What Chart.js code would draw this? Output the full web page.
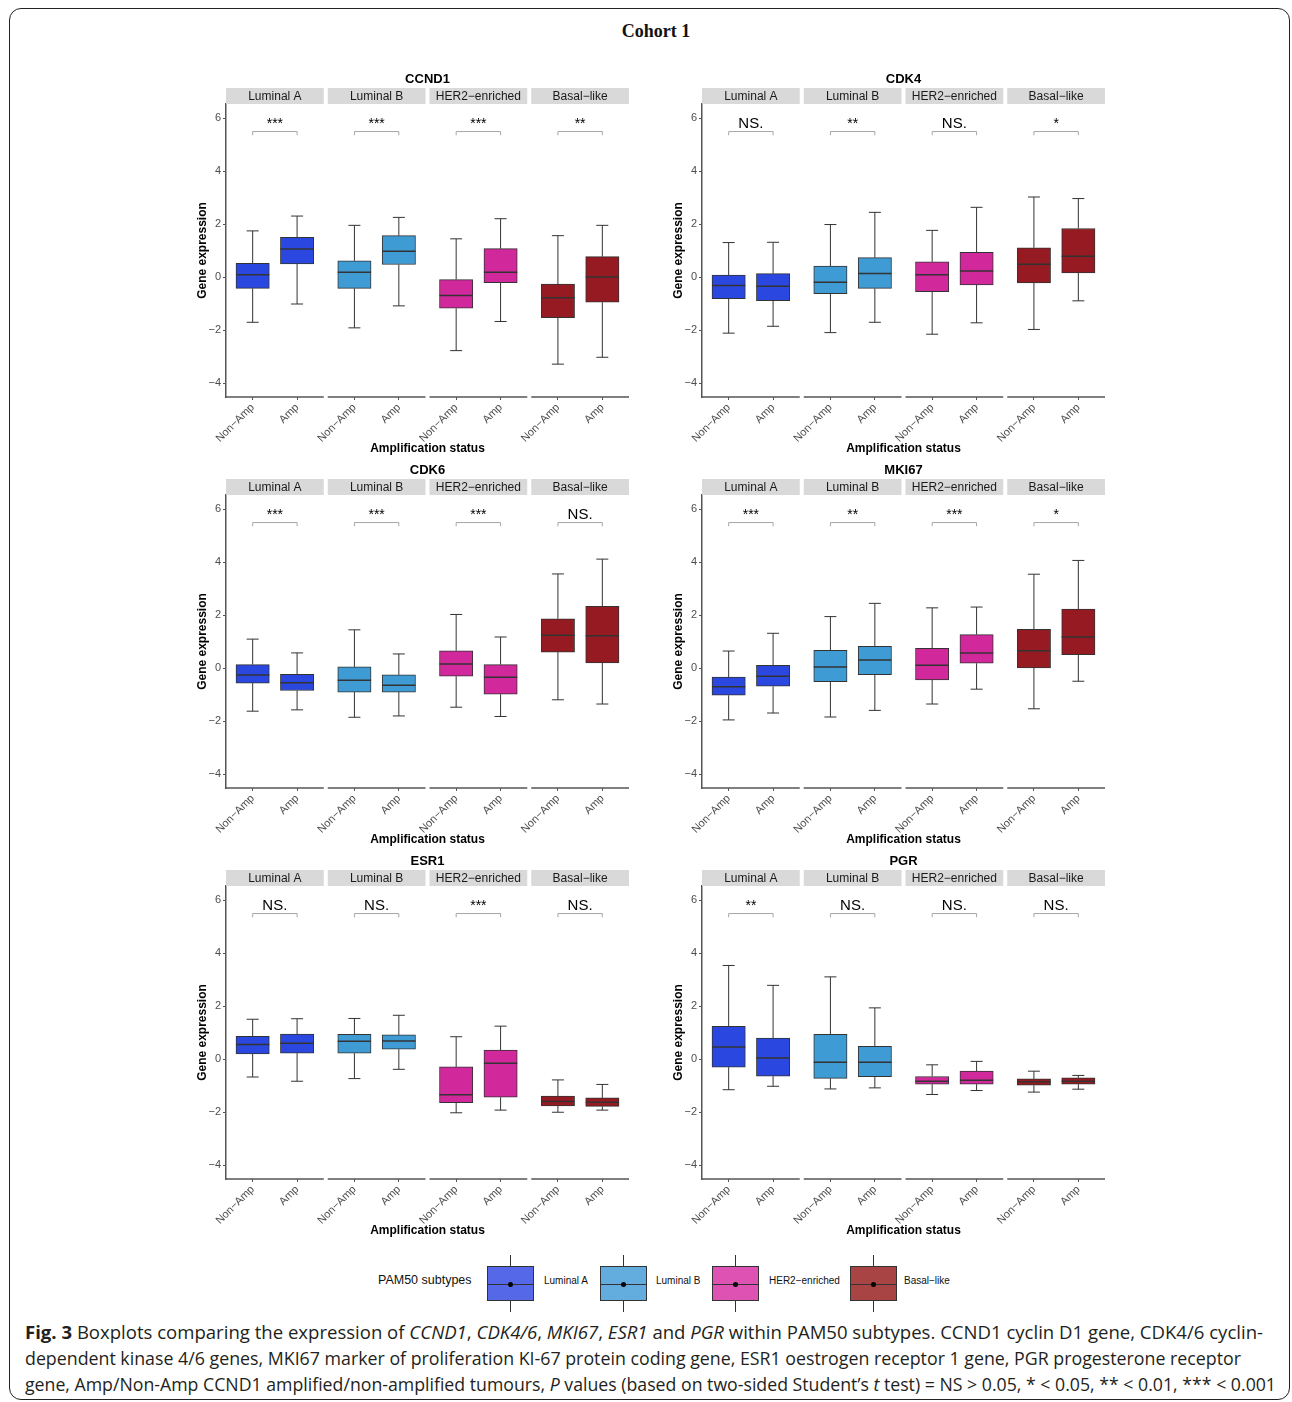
<!DOCTYPE html>
<html>
<head>
<meta charset="utf-8">
<script src="https://cdn.jsdelivr.net/npm/chart.js@4.4.1/dist/chart.umd.min.js"></script>
<style>
  body { margin: 0; width: 1292px; height: 1402px; background: #fff; position: relative; overflow: hidden;
         font-family: "Liberation Sans", Arial, sans-serif; }
  .frame { position: absolute; left: 9px; top: 8px; width: 1279px; height: 1390px;
           border: 1.5px solid #222; border-radius: 12px; }
  .cohort { position: absolute; top: 21px; left: 0; width: 1312px; text-align: center;
            font: bold 18px "Liberation Serif", "DejaVu Serif", serif; color: #111; }
  canvas.panel { position: absolute; }
  .leg-title { position: absolute; left: 378px; top: 1273px; font-size: 12.5px; color: #111; }
  .key { position: absolute; top: 1255px; width: 47px; height: 57px; }
  .key .box { position: absolute; left: 0; top: 11px; width: 45px; height: 33px; border: 1px solid #333; }
  .key .wh { position: absolute; left: 23px; width: 1px; background: #333; }
  .key .med { position: absolute; left: 0; top: 17px; width: 45px; height: 1px; background: #333; }
  .key .dot { position: absolute; left: 20px; top: 15px; width: 5px; height: 5px; border-radius: 50%; background: #000; }
  .key-label { position: absolute; top: 1275px; font-size: 10px; color: #111; }
  .cap { position: absolute; left: 25px; white-space: nowrap; font-family: "Open Sans", "Noto Sans", sans-serif;
         font-size: 18px; line-height: 22px; color: #231f20; transform-origin: left center; }
</style>
</head>
<body>
<div class="frame"></div>
<div class="cohort">Cohort 1</div>

<script>
// ---- data ----
const genes = ['CCND1', 'CDK4', 'CDK6', 'MKI67', 'ESR1', 'PGR'];
const subtypes = ['Luminal A', 'Luminal B', 'HER2\u2212enriched', 'Basal\u2212like'];
const groups = ['Non\u2212Amp', 'Amp'];
const yTicks = [-4, -2, 0, 2, 4, 6];

// each row: [lower whisker, Q1, median, Q3, upper whisker]
// order: LumA Non-Amp, LumA Amp, LumB Non-Amp, LumB Amp, HER2 Non-Amp, HER2 Amp, Basal Non-Amp, Basal Amp
const ccnd1 = [
  [-1.70, -0.42, 0.09, 0.53, 1.75], [-1.01, 0.50, 1.07, 1.51, 2.31],
  [-1.91, -0.42, 0.19, 0.62, 1.96], [-1.08, 0.48, 0.98, 1.57, 2.26],
  [-2.77, -1.17, -0.69, -0.09, 1.45], [-1.67, -0.20, 0.19, 1.08, 2.21],
  [-3.28, -1.53, -0.77, -0.26, 1.57], [-3.02, -0.94, 0.01, 0.78, 1.96]
];
const cdk4 = [
  [-2.11, -0.81, -0.31, 0.08, 1.31], [-1.85, -0.88, -0.34, 0.14, 1.32],
  [-2.09, -0.62, -0.19, 0.42, 1.99], [-1.70, -0.42, 0.14, 0.74, 2.45],
  [-2.15, -0.54, 0.09, 0.58, 1.77], [-1.72, -0.29, 0.24, 0.94, 2.64],
  [-1.97, -0.21, 0.49, 1.11, 3.03], [-0.89, 0.16, 0.79, 1.84, 2.97]
];
const cdk6 = [
  [-1.62, -0.56, -0.25, 0.14, 1.10], [-1.57, -0.84, -0.55, -0.23, 0.58],
  [-1.85, -0.90, -0.45, 0.05, 1.45], [-1.80, -0.90, -0.64, -0.25, 0.54],
  [-1.47, -0.30, 0.16, 0.66, 2.03], [-1.82, -0.98, -0.34, 0.14, 1.18],
  [-1.19, 0.61, 1.25, 1.87, 3.56], [-1.35, 0.20, 1.23, 2.34, 4.12]
];
const mki67 = [
  [-1.95, -1.02, -0.70, -0.33, 0.65], [-1.69, -0.68, -0.30, 0.11, 1.32],
  [-1.84, -0.51, 0.05, 0.68, 1.95], [-1.59, -0.24, 0.31, 0.83, 2.45],
  [-1.35, -0.44, 0.11, 0.75, 2.28], [-0.79, 0.19, 0.58, 1.27, 2.31],
  [-1.53, 0.01, 0.66, 1.47, 3.55], [-0.49, 0.51, 1.18, 2.23, 4.07]
];
const esr1 = [
  [-0.67, 0.20, 0.56, 0.87, 1.51], [-0.83, 0.23, 0.60, 0.95, 1.53],
  [-0.73, 0.23, 0.68, 0.94, 1.54], [-0.38, 0.38, 0.69, 0.92, 1.66],
  [-2.02, -1.64, -1.34, -0.29, 0.85], [-1.92, -1.43, -0.15, 0.35, 1.25],
  [-2.00, -1.76, -1.59, -1.39, -0.78], [-1.92, -1.78, -1.62, -1.46, -0.95]
];
const pgr = [
  [-1.15, -0.30, 0.46, 1.24, 3.54], [-1.02, -0.64, 0.05, 0.80, 2.79],
  [-1.12, -0.72, -0.11, 0.94, 3.11], [-1.08, -0.66, -0.11, 0.49, 1.94],
  [-1.33, -0.94, -0.83, -0.65, -0.21], [-1.18, -0.94, -0.79, -0.45, -0.08],
  [-1.24, -0.98, -0.85, -0.74, -0.45], [-1.13, -0.94, -0.83, -0.70, -0.61]
];
const geneStats = [ccnd1, cdk4, cdk6, mki67, esr1, pgr];

// significance labels per subtype
const ccnd1Sig = ['***', '***', '***', '**'];
const cdk4Sig = ['NS.', '**', 'NS.', '*'];
const cdk6Sig = ['***', '***', '***', 'NS.'];
const mki67Sig = ['***', '**', '***', '*'];
const esr1Sig = ['NS.', 'NS.', '***', 'NS.'];
const pgrSig = ['**', 'NS.', 'NS.', 'NS.'];
const geneSig = [ccnd1Sig, cdk4Sig, cdk6Sig, mki67Sig, esr1Sig, pgrSig];

// ---- layout / style ----
const subtypeColors = ['#2a47e0', '#3f9bd4', '#d1289b', '#961a21'];
const legendColors = ['#5568e8', '#62addd', '#dd52b2', '#a94445'];
const FACET_W = 2.2, GAP = 0.09, X_MAX = 4 * FACET_W + 3 * GAP;
const Y_MIN = -4.52, Y_MAX = 6.54;
const AXIS_X = [226, 702];
const TOP_Y = [104, 495, 886];
const PLOT_W = 403;
const BOX_PX = 0.75 * PLOT_W / X_MAX;
const BRACKET_Y = 5.5, BRACKET_LEG = 5.36, SIG_Y = 5.64;

const facetStart = s => s * (FACET_W + GAP);
const groupX = (s, g) => facetStart(s) + 0.6 + g;
const centers = [];
subtypes.forEach((_, s) => groups.forEach((_, g) => centers.push(groupX(s, g))));

const facetPlugin = {
  id: 'facets',
  beforeDatasetsDraw(chart) {
    const { ctx, scales: { x, y } } = chart;
    const stats = chart.options.plugins.facets.stats;
    ctx.save();
    ctx.strokeStyle = '#333';
    ctx.lineWidth = 1;
    stats.forEach((b, i) => {
      const cx = x.getPixelForValue(centers[i]);
      const half = (x.getPixelForValue(0.135) - x.getPixelForValue(0));
      ctx.beginPath();
      ctx.moveTo(cx, y.getPixelForValue(b[4])); ctx.lineTo(cx, y.getPixelForValue(b[3]));
      ctx.moveTo(cx, y.getPixelForValue(b[1])); ctx.lineTo(cx, y.getPixelForValue(b[0]));
      ctx.moveTo(cx - half, y.getPixelForValue(b[4])); ctx.lineTo(cx + half, y.getPixelForValue(b[4]));
      ctx.moveTo(cx - half, y.getPixelForValue(b[0])); ctx.lineTo(cx + half, y.getPixelForValue(b[0]));
      ctx.stroke();
    });
    ctx.restore();
  },
  afterDatasetsDraw(chart) {
    const { ctx, scales: { x, y } } = chart;
    const stats = chart.options.plugins.facets.stats;
    ctx.save();
    ctx.strokeStyle = '#333';
    ctx.lineWidth = 1.5;
    stats.forEach((b, i) => {
      const cx = x.getPixelForValue(centers[i]);
      const py = y.getPixelForValue(b[2]);
      ctx.beginPath();
      ctx.moveTo(cx - BOX_PX / 2, py); ctx.lineTo(cx + BOX_PX / 2, py);
      ctx.stroke();
    });
    ctx.restore();
  },
  afterDraw(chart) {
    const { ctx, chartArea: a, scales: { x, y } } = chart;
    const { gene, sig } = chart.options.plugins.facets;
    ctx.save();
    // panel title
    ctx.fillStyle = '#000';
    ctx.font = 'bold 13px "Liberation Sans", Arial, sans-serif';
    ctx.textAlign = 'center';
    ctx.textBaseline = 'middle';
    ctx.fillText(gene, (a.left + a.right) / 2, a.top - 25);
    subtypes.forEach((name, s) => {
      const x0 = x.getPixelForValue(facetStart(s));
      const x1 = x.getPixelForValue(facetStart(s) + FACET_W);
      // strip
      ctx.fillStyle = '#d9d9d9';
      ctx.fillRect(x0, a.top - 16, x1 - x0, 16);
      ctx.fillStyle = '#1a1a1a';
      ctx.font = '12px "Liberation Sans", Arial, sans-serif';
      ctx.textBaseline = 'middle';
      ctx.fillText(name, (x0 + x1) / 2, a.top - 7.5);
      // broken x axis line
      ctx.strokeStyle = '#555';
      ctx.lineWidth = 1.5;
      ctx.beginPath();
      ctx.moveTo(x0, a.bottom); ctx.lineTo(x1, a.bottom);
      ctx.stroke();
      // significance bracket
      const c0 = x.getPixelForValue(groupX(s, 0)), c1 = x.getPixelForValue(groupX(s, 1));
      const by = y.getPixelForValue(BRACKET_Y), ly = y.getPixelForValue(BRACKET_LEG);
      ctx.strokeStyle = '#a6a6a6';
      ctx.lineWidth = 1;
      ctx.beginPath();
      ctx.moveTo(c0, ly); ctx.lineTo(c0, by); ctx.lineTo(c1, by); ctx.lineTo(c1, ly);
      ctx.stroke();
      ctx.fillStyle = '#000';
      ctx.font = (sig[s] === 'NS.' ? '15px' : '14px') + ' "Liberation Sans", Arial, sans-serif';
      ctx.textBaseline = 'alphabetic';
      ctx.fillText(sig[s], (c0 + c1) / 2, y.getPixelForValue(SIG_Y));
    });
    ctx.restore();
  }
};

genes.forEach((gene, idx) => {
  const stats = geneStats[idx];
  const col = idx % 2, row = Math.floor(idx / 2);
  const canvas = document.createElement('canvas');
  canvas.className = 'panel';
  canvas.width = 460;
  canvas.height = 400;
  canvas.style.left = (AXIS_X[col] - 46) + 'px';
  canvas.style.top = (TOP_Y[row] - 40) + 'px';
  document.body.appendChild(canvas);

  new Chart(canvas, {
    type: 'bar',
    data: {
      datasets: [{
        data: stats.map((b, i) => ({ x: centers[i], y: [b[1], b[3]] })),
        backgroundColor: stats.map((b, i) => subtypeColors[Math.floor(i / 2)]),
        borderColor: '#333',
        borderWidth: 1,
        borderSkipped: false,
        barThickness: BOX_PX
      }]
    },
    options: {
      responsive: false,
      animation: false,
      layout: { padding: { left: 0, top: 40, right: 11, bottom: 0 } },
      plugins: {
        legend: { display: false },
        tooltip: { enabled: false },
        facets: { gene: gene, stats: stats, sig: geneSig[idx] }
      },
      scales: {
        x: {
          type: 'linear', min: 0, max: X_MAX, offset: false,
          afterBuildTicks: s => { s.ticks = centers.map(v => ({ value: v })); },
          afterFit: s => { s.height = 67; },
          ticks: {
            autoSkip: false, maxRotation: 45, minRotation: 45, padding: 1,
            color: '#4d4d4d', font: { size: 11 },
            callback: (v, i) => groups[i % 2]
          },
          grid: { drawOnChartArea: false, drawTicks: true, tickLength: 3, color: '#555', offset: false },
          border: { display: false },
          title: { display: true, text: 'Amplification status', color: '#000',
                   font: { size: 12, weight: 'bold' }, padding: { top: 0, bottom: 8 } }
        },
        y: {
          min: Y_MIN, max: Y_MAX,
          afterBuildTicks: s => { s.ticks = yTicks.map(v => ({ value: v })); },
          afterFit: s => { s.width = 46; },
          ticks: { color: '#4d4d4d', font: { size: 11 }, padding: 2,
                   callback: v => v < 0 ? '\u2212' + Math.abs(v) : String(v) },
          grid: { drawOnChartArea: false, tickLength: 3, color: '#555' },
          border: { display: true, color: '#555', width: 1.5 },
          title: { display: true, text: 'Gene expression', color: '#000',
                   font: { size: 12, weight: 'bold' }, padding: { top: 15, bottom: 0 } }
        }
      }
    },
    plugins: [facetPlugin]
  });
});

// ---- legend ----
const keyLeft = [487, 600, 712, 850];
const labelLeft = [544, 656, 769, 904];
const legTitle = document.createElement('div');
legTitle.className = 'leg-title';
legTitle.textContent = 'PAM50 subtypes';
document.body.appendChild(legTitle);
subtypes.forEach((name, s) => {
  const key = document.createElement('div');
  key.className = 'key';
  key.style.left = keyLeft[s] + 'px';
  key.innerHTML = '<div class="wh" style="top:0;height:11px"></div>' +
    '<div class="box" style="background:' + legendColors[s] + '"><div class="med"></div><div class="dot"></div></div>' +
    '<div class="wh" style="top:45px;height:12px"></div>';
  document.body.appendChild(key);
  const lab = document.createElement('div');
  lab.className = 'key-label';
  lab.style.left = labelLeft[s] + 'px';
  lab.textContent = name;
  document.body.appendChild(lab);
});

// ---- caption ----
const captionLines = [
  '<b>Fig. 3</b> Boxplots comparing the expression of <i>CCND1</i>, <i>CDK4/6</i>, <i>MKI67</i>, <i>ESR1</i> and <i>PGR</i> within PAM50 subtypes. CCND1 cyclin D1 gene, CDK4/6 cyclin-',
  'dependent kinase 4/6 genes, MKI67 marker of proliferation KI-67 protein coding gene, ESR1 oestrogen receptor 1 gene, PGR progesterone receptor',
  'gene, Amp/Non-Amp CCND1 amplified/non-amplified tumours, <i>P</i> values (based on two-sided Student\u2019s <i>t</i> test) = NS &gt; 0.05, * &lt; 0.05, ** &lt; 0.01, *** &lt; 0.001'
];
const captionTop = [1321, 1347, 1373];
const captionWidth = [1238, 1216, 1251];
captionLines.forEach((html, i) => {
  const d = document.createElement('div');
  d.className = 'cap';
  d.style.top = captionTop[i] + 'px';
  d.innerHTML = html;
  document.body.appendChild(d);
  const w = d.getBoundingClientRect().width;
  d.style.transform = 'scaleX(' + (captionWidth[i] / w) + ')';
});
</script>
</body>
</html>
